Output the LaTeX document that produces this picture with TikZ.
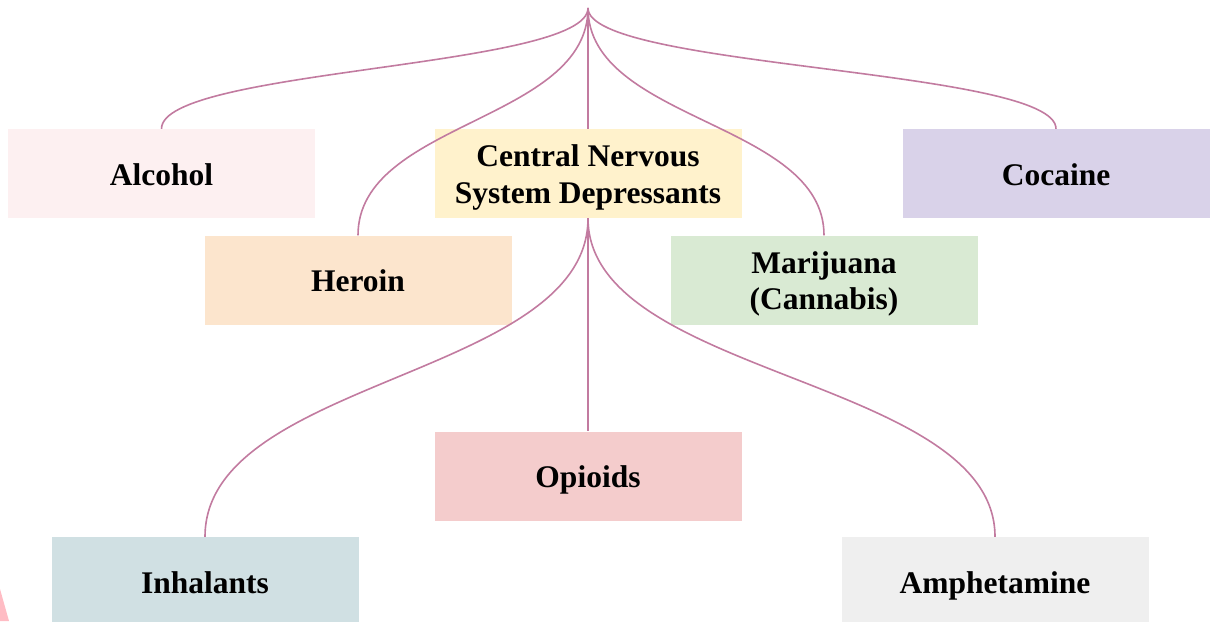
\documentclass[tikz,border=0pt]{standalone}
\usepackage{fontspec}
\setmainfont{Liberation Serif}
\usetikzlibrary{calc}
\definecolor{cAlc}{HTML}{FDF0F1}
\definecolor{cCNS}{HTML}{FFF2CC}
\definecolor{cCoc}{HTML}{D9D2E9}
\definecolor{cHer}{HTML}{FCE5CD}
\definecolor{cMar}{HTML}{D9EAD3}
\definecolor{cOpi}{HTML}{F4CCCC}
\definecolor{cInh}{HTML}{D0E0E3}
\definecolor{cAmp}{HTML}{EFEFEF}
\definecolor{cLine}{HTML}{C27BA0}
\definecolor{cTri}{HTML}{FFBCC4}
\begin{document}
\begin{tikzpicture}[x=1pt,y=-1pt,
  txt/.style={inner sep=0pt,font=\fontsize{31.5}{35}\selectfont\bfseries},
  box/.style={txt,minimum width=307pt,minimum height=89pt,text height=23.5pt,text depth=0pt},
  line/.style={txt,anchor=base},
  conn/.style={draw=cLine,line width=1.6pt},
  branch/.style={to path={let \p1=(\tikztostart), \p2=(\tikztotarget) in
    .. controls (\x1,{0.5*\y1+0.5*\y2}) and (\x2,{0.5*\y1+0.5*\y2}) .. (\tikztotarget)}}]
\clip (0,0) rectangle (1215,621);
\useasboundingbox (0,0) rectangle (1215,621);
\fill[cTri] (0,589) -- (9,621) -- (0,621) -- cycle;
\coordinate (top) at (588,8);
\node[box,fill=cAlc] (alc) at (161.5,173.5) {Alcohol};
\node[box,fill=cCNS] (cns) at (588,173.5) {};
\node[line] (cns1) at ($(cns.center)+(0,-7)$) {Central Nervous};
\node[line] (cns2) at ($(cns.center)+(0,29.5)$) {System Depressants};
\node[box,fill=cCoc] (coc) at (1056,173.5) {Cocaine};
\node[box,fill=cHer] (her) at (358,280) {Heroin};
\node[box,fill=cMar] (mar) at (824,280) {};
\node[line] (mar1) at ($(mar.center)+(0,-7)$) {Marijuana};
\node[line] (mar2) at ($(mar.center)+(0,29)$) {(Cannabis)};
\node[box,fill=cOpi] (opi) at (588,476) {Opioids};
\node[box,fill=cInh] (inh) at (205,581.5) {Inhalants};
\node[box,fill=cAmp] (amp) at (995,581.5) {Amphetamine};
\draw[conn] (top) to[branch] (alc.north);
\draw[conn] (top) to[branch] (her.north);
\draw[conn] (top) to[branch] (cns.north);
\draw[conn] (top) to[branch] (mar.north);
\draw[conn] (top) to[branch] (coc.north);
\draw[conn] (cns.south) to[branch] (inh.north);
\draw[conn] (cns.south) to[branch] (opi.north);
\draw[conn] (cns.south) to[branch] (amp.north);
\end{tikzpicture}
\end{document}
